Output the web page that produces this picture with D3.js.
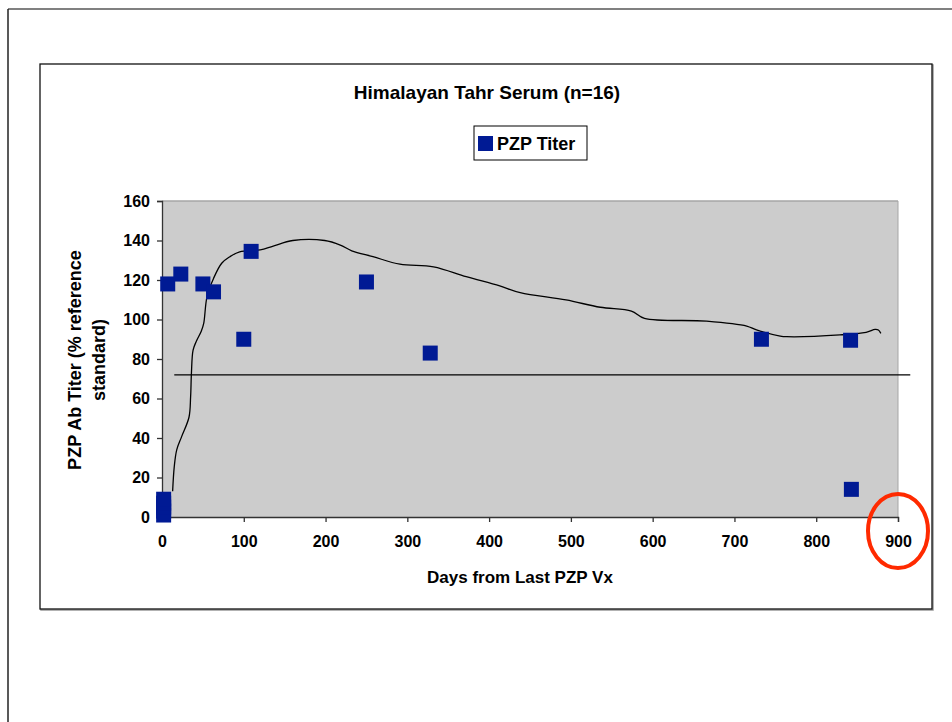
<!DOCTYPE html>
<html lang="en">
<head>
<meta charset="UTF-8">
<script src="https://d3js.org/d3.v7.min.js"></script>
<style>
    body { margin: 0; background: #fff; }
    svg { display: block; font-family: "Liberation Sans", Arial, sans-serif; }
    .tick text { font-size: 16px; font-weight: bold; fill: #000; }
</style>
<title>Himalayan Tahr Serum</title>
</head>
<body>
<svg id="chart" width="952" height="722"></svg>
<script>
    // sample points
    var days   = [2, 2, 2, 2, 2, 7, 23, 50, 63, 100, 109, 250, 328, 733, 842, 843];
    var titers = [1, 3, 5, 7, 9, 118, 123, 118, 114, 90, 134.5, 119, 83, 90, 89.5, 14];

    // hand drawn trend line
    var curveDays = [13, 15, 18, 24, 33, 35, 36, 38, 42, 48, 51, 55, 63, 73, 83, 95, 120, 136, 160, 199, 218, 232, 258, 291, 332, 372, 413, 438, 494, 536, 574, 590, 666, 715, 727, 756, 764, 829, 861, 872, 876, 879];
    var curveVals = [13, 25.5, 34, 40.7, 50.5, 61, 73, 84.5, 89, 94, 98, 111.5, 120.8, 128.5, 131.8, 134.3, 135.2, 137.2, 140, 140, 137.7, 134.8, 131.8, 128, 126.7, 121.7, 117, 113.6, 109.9, 106.2, 104.3, 100.6, 99.2, 96.7, 94.7, 91.6, 91.3, 92.2, 93.5, 95, 94.7, 93];

    var cutoff = 72, cutoffFrom = 15, cutoffTo = 915;
    var xTicks = [0, 100, 200, 300, 400, 500, 600, 700, 800, 900];
    var yTicks = [0, 20, 40, 60, 80, 100, 120, 140, 160];

    var svg = d3.select("#chart");

    // slide frame
    svg.append("line").attr("x1", 8).attr("x2", 952).attr("y1", 9).attr("y2", 9)
        .attr("stroke", "#808080").attr("stroke-width", 2);
    svg.append("line").attr("x1", 8).attr("x2", 8).attr("y1", 9).attr("y2", 722)
        .attr("stroke", "#222").attr("stroke-width", 1.5);

    // chart frame with a bit of shadow
    svg.append("rect").attr("x", 41).attr("y", 65).attr("width", 892).attr("height", 545)
        .attr("fill", "none").attr("stroke", "#999").attr("stroke-width", 1.5);
    svg.append("rect").attr("x", 40).attr("y", 64).attr("width", 892).attr("height", 545)
        .attr("fill", "#fff").attr("stroke", "#111").attr("stroke-width", 1.3);

    var pLeft = 162, pRight = 898, pTop = 201, pBottom = 517;

    var x = d3.scaleLinear().domain([0, 900]).range([pLeft, pRight]);
    var y = d3.scaleLinear().domain([0, 160]).range([pBottom, pTop]);

    // plot area
    svg.append("rect").attr("x", pLeft).attr("y", pTop)
        .attr("width", pRight - pLeft).attr("height", pBottom - pTop)
        .attr("fill", "#cccccc");
    svg.append("line").attr("x1", pLeft).attr("x2", pRight).attr("y1", pTop).attr("y2", pTop)
        .attr("stroke", "#a6a6a6").attr("stroke-width", 1.5);
    svg.append("line").attr("x1", pRight).attr("x2", pRight).attr("y1", pTop).attr("y2", pBottom)
        .attr("stroke", "#a6a6a6").attr("stroke-width", 1);

    var xAxis = svg.append("g").attr("transform", "translate(0," + pBottom + ")")
        .call(d3.axisBottom(x).tickValues(xTicks).tickSize(5).tickPadding(14));
    var yAxis = svg.append("g").attr("transform", "translate(" + pLeft + ",0)")
        .call(d3.axisLeft(y).tickValues(yTicks).tickSize(5).tickPadding(7));
    [xAxis, yAxis].forEach(function (g) {
        g.selectAll("path, line").attr("stroke", "#333").attr("stroke-width", 1.3);
    });
    xAxis.selectAll(".tick text").attr("font-size", 17);

    // cutoff line
    svg.append("line")
        .attr("x1", x(cutoffFrom)).attr("x2", x(cutoffTo))
        .attr("y1", y(cutoff)).attr("y2", y(cutoff))
        .attr("stroke", "#000").attr("stroke-width", 1.2);

    // trend curve
    var line = d3.line()
        .x(function (d, i) { return x(curveDays[i]); })
        .y(function (d) { return y(d); })
        .curve(d3.curveCatmullRom);
    svg.append("path").datum(curveVals)
        .attr("d", line)
        .attr("fill", "none").attr("stroke", "#000").attr("stroke-width", 1.3);

    // markers
    var sz = 15;
    svg.selectAll("rect.pt").data(titers).enter().append("rect")
        .attr("class", "pt")
        .attr("x", function (d, i) { return x(days[i]) - sz / 2; })
        .attr("y", function (d) { return y(d) - sz / 2; })
        .attr("width", sz).attr("height", sz)
        .attr("fill", "#001a94");

    // title
    svg.append("text").attr("x", 487).attr("y", 99)
        .attr("text-anchor", "middle").attr("font-size", 19).attr("font-weight", "bold")
        .text("Himalayan Tahr Serum (n=16)");

    // legend
    svg.append("rect").attr("x", 474).attr("y", 126).attr("width", 113).attr("height", 34)
        .attr("fill", "#fff").attr("stroke", "#000").attr("stroke-width", 1);
    svg.append("rect").attr("x", 478).attr("y", 136).attr("width", sz).attr("height", sz)
        .attr("fill", "#001a94");
    svg.append("text").attr("x", 497).attr("y", 150)
        .attr("font-size", 18).attr("font-weight", "bold")
        .text("PZP Titer");

    // axis titles
    svg.append("text").attr("x", 520).attr("y", 583)
        .attr("text-anchor", "middle").attr("font-size", 17).attr("font-weight", "bold")
        .text("Days from Last PZP Vx");
    var yt = svg.append("text")
        .attr("transform", "translate(81,360) rotate(-90)")
        .attr("text-anchor", "middle").attr("font-size", 18).attr("font-weight", "bold");
    yt.append("tspan").attr("x", 0).attr("dy", 0).text("PZP Ab Titer (% reference");
    yt.append("tspan").attr("x", 0).attr("dy", 24).text("standard)");

    // red circle round the 900 label
    svg.append("ellipse").attr("cx", 898).attr("cy", 531).attr("rx", 30).attr("ry", 37)
        .attr("fill", "none").attr("stroke", "#ff2a00").attr("stroke-width", 4);
</script>
</body>
</html>
